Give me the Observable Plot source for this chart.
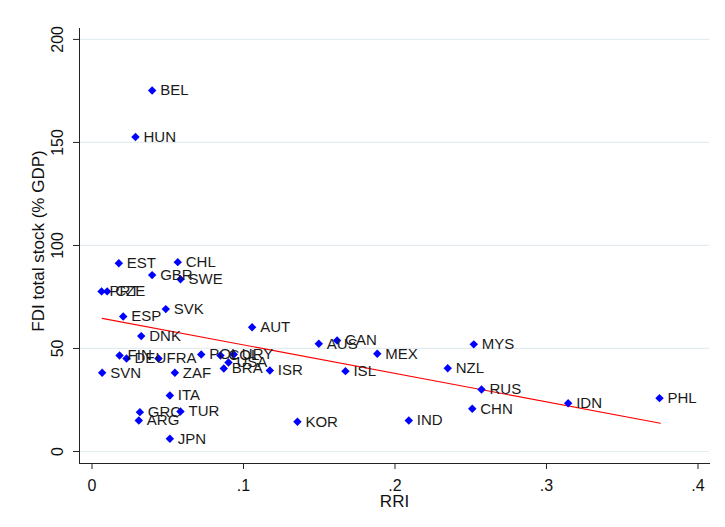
<!DOCTYPE html>
<html>
<head>
<meta charset="utf-8">
<script src="https://cdn.jsdelivr.net/npm/d3@7"></script>
<script src="https://cdn.jsdelivr.net/npm/@observablehq/plot@0.6"></script>
<style>
  html, body { margin: 0; padding: 0; background: #fff; }
  #chart svg { display: block; }
</style>
</head>
<body>
<div id="chart"></div>
<script>
const countries = ["BEL","HUN","EST","CHL","GBR","SWE","PRT","CZE","ESP","SVK","DNK","AUT",
  "FIN","DEU","FRA","POL","COL","URY","USA","BRA","ISR","SVN","ZAF","ITA","GRC","ARG","TUR","JPN",
  "KOR","AUS","CAN","MEX","ISL","IND","MYS","NZL","RUS","CHN","IDN","PHL"];
const rri = [0.0397,0.0287,0.0177,0.0566,0.0397,0.0584,0.0063,0.0100,0.0206,0.0487,0.0325,0.1057,
  0.0182,0.0228,0.0439,0.0721,0.0848,0.0936,0.0901,0.0870,0.1174,0.0067,0.0547,0.0514,0.0316,0.0309,0.0584,0.0514,
  0.1356,0.1497,0.1618,0.1883,0.1673,0.2091,0.2520,0.2348,0.2571,0.2510,0.3143,0.3746];
const fdi = [175.2,152.6,91.4,91.9,85.6,83.6,77.7,77.7,65.5,69.1,56.0,60.3,
  46.6,45.1,45.1,47.1,46.6,47.1,43.2,40.3,39.3,38.2,38.2,27.2,19.1,15.0,19.4,6.2,
  14.4,52.3,53.9,47.4,39.0,15.0,52.0,40.4,30.1,20.7,23.4,25.9];

const fitX = [0.0067, 0.3752];
const fitY = [64.6, 13.7];

const xTicks = [0, 0.1, 0.2, 0.3, 0.4];
const xTickLabels = ["0", ".1", ".2", ".3", ".4"];
const yTicks = [0, 50, 100, 150, 200];
const yTickLabels = ["0", "50", "100", "150", "200"];
const xTitle = "RRI";
const yTitle = "FDI total stock (% GDP)";

const points = countries.map((c, i) => ({country: c, rri: rri[i], fdi: fdi[i]}));
const fit = fitX.map((x, i) => ({x, y: fitY[i]}));

const font = "'Liberation Sans', Arial, Helvetica, sans-serif";

const chart = Plot.plot({
  width: 725,
  height: 527,
  marginLeft: 79,
  marginRight: 16,
  marginTop: 28,
  marginBottom: 64,
  style: {fontFamily: font, fontSize: "16px", color: "#111", background: "#fff"},
  x: {domain: [-0.00825, 0.4076]},
  y: {domain: [-5.83, 205.3]},
  marks: [
    Plot.ruleY(yTicks, {stroke: "#e3ecef", strokeWidth: 1.2}),
    Plot.frame({anchor: "left", stroke: "#222"}),
    Plot.frame({anchor: "bottom", stroke: "#222"}),
    Plot.axisY({ticks: yTicks, tickSize: 6, tickFormat: () => "", label: null, stroke: "#222"}),
    Plot.text(yTicks, {
      y: d => d, text: (d, i) => yTickLabels[i], frameAnchor: "left", dx: -22,
      rotate: -90, textAnchor: "middle", lineAnchor: "middle", fontSize: 16, fill: "#111"
    }),
    Plot.axisX({ticks: xTicks, tickSize: 6, tickPadding: 10, label: null, stroke: "#222",
      tickFormat: d => xTickLabels[xTicks.indexOf(d)], fontSize: 16}),
    Plot.text([xTitle], {text: d => d, frameAnchor: "bottom", dy: 38, lineAnchor: "middle", fontSize: 17, fill: "#111"}),
    Plot.text([yTitle], {text: d => d, frameAnchor: "left", dx: -41, dy: -5, rotate: -90,
      textAnchor: "middle", lineAnchor: "middle", fontSize: 17, fill: "#111"}),
    Plot.line(fit, {x: "x", y: "y", stroke: "#ff0000", strokeWidth: 1.1}),
    Plot.dot(points, {x: "rri", y: "fdi", symbol: "diamond2", r: 3.8, fill: "#0000ff", stroke: "none"}),
    Plot.text(points, {x: "rri", y: "fdi", text: "country", dx: 8, textAnchor: "start",
      lineAnchor: "middle", fontSize: 15, fill: "#1a1a1a"})
  ]
});
document.getElementById("chart").appendChild(chart);
</script>
</body>
</html>
